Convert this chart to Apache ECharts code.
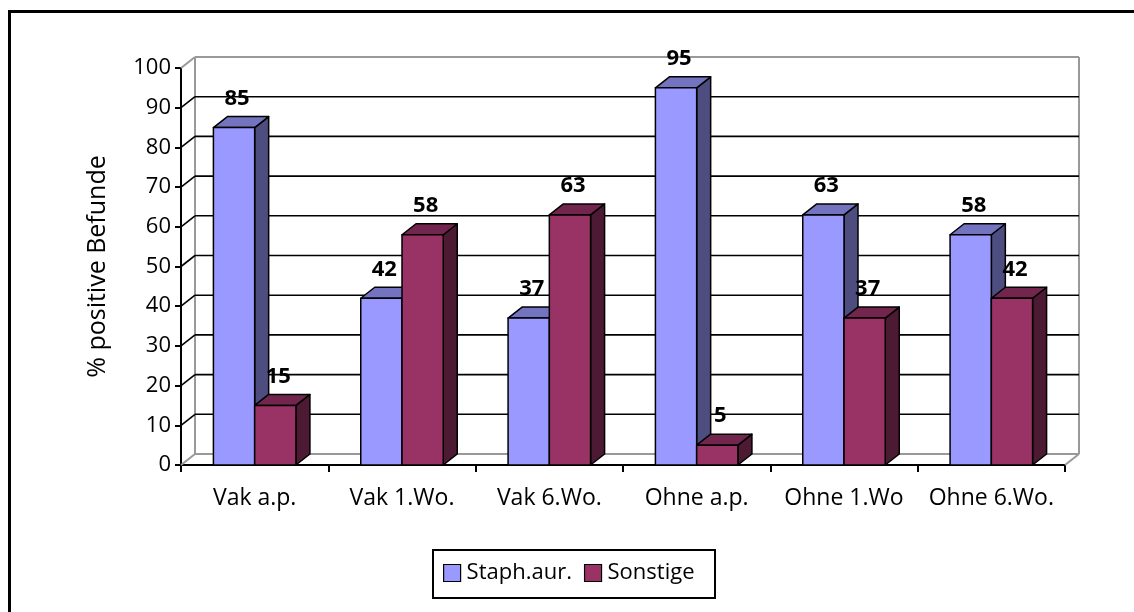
<!DOCTYPE html>
<html>
<head>
<meta charset="utf-8">
<script src="https://cdn.jsdelivr.net/npm/echarts@6/dist/echarts.min.js"></script>
<style>html,body{margin:0;padding:0;background:#fff}#c{width:1134px;height:612px}</style>
</head>
<body>
<div id="c"></div>
<script>
var categories = ['Vak a.p.', 'Vak 1.Wo.', 'Vak 6.Wo.', 'Ohne a.p.', 'Ohne 1.Wo', 'Ohne 6.Wo.'];
var staphValues = [85, 42, 37, 95, 63, 58];
var sonstigeValues = [15, 58, 63, 5, 37, 42];
var yTicks = [0, 10, 20, 30, 40, 50, 60, 70, 80, 90, 100];
var seriesNames = ['Staph.aur.', 'Sonstige'];
var yAxisTitle = '% positive Befunde';

var FONT = '"Open Sans", "Noto Sans", sans-serif';
var DX = 14, DY = -11;
var BAR_FRAC = 0.28;
var COLORS = [
  { front: '#9999FF', top: '#7373BF', side: '#4D4D80' },
  { front: '#993366', top: '#73264D', side: '#4D1A33' }
];

function wallRender(params, api) {
  var cs = params.coordSys;
  var x0 = cs.x, x1 = cs.x + cs.width;
  var yTop = api.coord([0, 100])[1], yBot = api.coord([0, 0])[1];
  var v = api.value(0);
  var y = api.coord([0, v])[1];
  var children = [];
  var grey = { stroke: '#999999', lineWidth: 2 };
  var black = { stroke: '#000000', lineWidth: 1.6 };
  var isEdge = (v === 0 || v === 100);
  var st = isEdge ? grey : black;
  children.push({ type: 'line', shape: { x1: x0 + DX, y1: y + DY, x2: x1 + DX, y2: y + DY }, style: st });
  children.push({ type: 'line', shape: { x1: x0, y1: y, x2: x0 + DX, y2: y + DY }, style: st });
  if (params.dataIndex === 0) {
    children.push({ type: 'line', shape: { x1: x0 + DX, y1: yTop + DY, x2: x0 + DX, y2: yBot + DY }, style: grey });
    children.push({ type: 'line', shape: { x1: x1 + DX, y1: yTop + DY, x2: x1 + DX, y2: yBot + DY }, style: grey });
    children.push({ type: 'line', shape: { x1: x1, y1: yBot, x2: x1 + DX, y2: yBot + DY }, style: grey });
  }
  return { type: 'group', children: children };
}

function barRender(si) {
  return function (params, api) {
    var cat = api.value(0), val = api.value(1);
    var c = api.coord([cat, val]);
    var b = api.coord([cat, 0]);
    var bw = api.size([1, 0])[0] * BAR_FRAC;
    var x = si === 0 ? c[0] - bw : c[0];
    var yT = c[1], yB = b[1];
    var col = COLORS[si];
    var stroke = { stroke: '#000', lineWidth: 1.5, lineJoin: 'round' };
    return {
      type: 'group',
      children: [
        { type: 'polygon', shape: { points: [[x + bw, yT], [x + bw + DX, yT + DY], [x + bw + DX, yB + DY], [x + bw, yB]] },
          style: Object.assign({ fill: col.side }, stroke) },
        { type: 'polygon', shape: { points: [[x, yT], [x + DX, yT + DY], [x + bw + DX, yT + DY], [x + bw, yT]] },
          style: Object.assign({ fill: col.top }, stroke) },
        { type: 'rect', shape: { x: x, y: yT, width: bw, height: yB - yT },
          style: Object.assign({ fill: col.front }, stroke) }
      ]
    };
  };
}

function labelRender(si) {
  return function (params, api) {
    var cat = api.value(0), val = api.value(1);
    var c = api.coord([cat, val]);
    var bw = api.size([1, 0])[0] * BAR_FRAC;
    var cx = si === 0 ? c[0] - bw / 2 : c[0] + bw / 2;
    return {
      type: 'text',
      style: {
        text: String(val), x: cx + 3, y: c[1] - 29,
        align: 'center', verticalAlign: 'middle',
        font: 'bold 22px ' + FONT, fill: '#000'
      }
    };
  };
}

function pairs(arr) { return arr.map(function (v, i) { return [i, v]; }); }

var chart = echarts.init(document.getElementById('c'), null, { renderer: 'canvas' });
chart.setOption({
  backgroundColor: '#ffffff',
  animation: false,
  textStyle: { fontFamily: FONT },
  grid: { left: 181, top: 68, width: 884, height: 397, containLabel: false },
  xAxis: {
    type: 'category', data: categories, boundaryGap: true,
    axisLine: { lineStyle: { color: '#000', width: 2 } },
    axisTick: { show: true, length: 7, alignWithLabel: false, lineStyle: { color: '#000', width: 2 } },
    axisLabel: { color: '#000', fontSize: 23, margin: 22, fontFamily: FONT, interval: 0 },
    splitLine: { show: false }
  },
  yAxis: {
    type: 'value', min: 0, max: 100, interval: 10,
    name: yAxisTitle, nameLocation: 'middle', nameGap: 71,
    nameTextStyle: { color: '#000', fontSize: 25, fontFamily: FONT },
    axisLine: { show: true, lineStyle: { color: '#000', width: 2 } },
    axisTick: { show: true, length: 6, lineStyle: { color: '#000', width: 2 } },
    axisLabel: { color: '#000', fontSize: 22, margin: 10, fontFamily: FONT },
    splitLine: { show: false }
  },
  legend: {
    data: seriesNames, left: 443, top: 562, padding: 0,
    itemWidth: 17, itemHeight: 17, itemGap: 12, icon: 'rect',
    itemStyle: { borderColor: '#000', borderWidth: 1.2 },
    textStyle: { color: '#000', fontSize: 22, fontFamily: FONT, padding: [0, 0, 0, 1] }
  },
  graphic: [
    { type: 'rect', left: 7, top: 9, shape: { x: 0, y: 0, width: 1200, height: 700 },
      style: { fill: 'none', stroke: '#000', lineWidth: 3 }, z: -10, silent: true },
    { type: 'rect', shape: { x: 433, y: 550, width: 282, height: 48 },
      style: { fill: 'none', stroke: '#000', lineWidth: 2 }, z: 10, silent: true }
  ],
  series: [
    { type: 'custom', name: 'wall', renderItem: wallRender, data: yTicks.map(function (v) { return [v]; }),
      encode: { y: 0 }, z: 1, silent: true, clip: false },
    { type: 'custom', name: seriesNames[0], renderItem: barRender(0), data: pairs(staphValues),
      encode: { x: 0, y: 1 }, z: 3, clip: false,
      itemStyle: { color: COLORS[0].front, borderColor: '#000' } },
    { type: 'custom', name: seriesNames[1], renderItem: barRender(1), data: pairs(sonstigeValues),
      encode: { x: 0, y: 1 }, z: 4, clip: false,
      itemStyle: { color: COLORS[1].front, borderColor: '#000' } },
    { type: 'custom', name: 'lbl0', renderItem: labelRender(0), data: pairs(staphValues),
      encode: { x: 0, y: 1 }, z: 6, clip: false, silent: true },
    { type: 'custom', name: 'lbl1', renderItem: labelRender(1), data: pairs(sonstigeValues),
      encode: { x: 0, y: 1 }, z: 6, clip: false, silent: true }
  ]
});
</script>
</body>
</html>
